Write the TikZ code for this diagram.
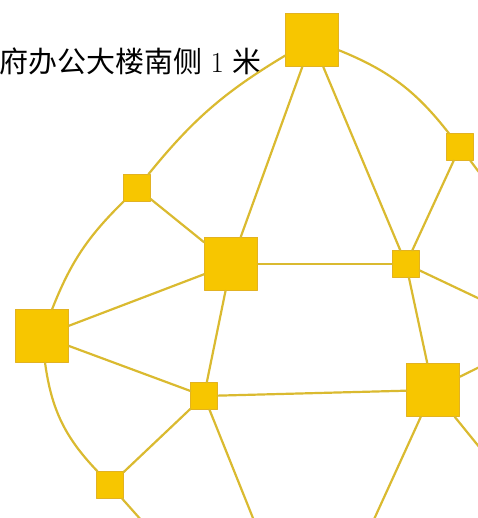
\documentclass[tikz,border=0pt]{standalone}
\usepackage{fontspec}
\newfontfamily\cjk{Noto Sans CJK SC}
\definecolor{boxfill}{RGB}{247,198,0}
\definecolor{boxline}{RGB}{226,178,34}
\definecolor{linkcol}{RGB}{218,186,48}
\begin{document}
\begin{tikzpicture}[x=1pt,y=1pt,line cap=round,line join=round,
  big/.style={draw=boxline,fill=boxfill,line width=0.8pt,inner sep=0pt,minimum size=53pt},
  small/.style={big,minimum size=26.5pt},
  link/.style={draw=linkcol,line width=2.2pt}]
  \useasboundingbox (0,0) rectangle (477,518);
  \node[anchor=base west,inner sep=0pt,font=\fontsize{29}{30}\selectfont] (note) at (-0.5,445) {{\cjk 府办公大楼南侧}\hspace{8pt}1\hspace{8pt}{\cjk 米}};
  \node[big] (top) at (312,478) {};
  \node[small] (ne) at (460,371) {};
  \node[small] (nw) at (137,330) {};
  \node[big] (mid) at (231,254) {};
  \node[small] (east) at (406,254) {};
  \node[big] (west) at (42,182) {};
  \node[small] (south) at (204,122) {};
  \node[big] (se) at (433,128) {};
  \node[small] (sw) at (110,33) {};
  \coordinate (out1) at (500,318);
  \coordinate (out2) at (520,200);
  \coordinate (out3) at (520,171);
  \coordinate (out4) at (510,33);
  \coordinate (out5) at (360,-32);
  \coordinate (out6) at (265,-30);
  \coordinate (out7) at (150,-12);
  \path[link] (top) to[bend right=10] (nw);
  \path[link] (top) to[bend left=15] (ne);
  \path[link] (nw) to[bend right=12] (west);
  \path[link] (west) to[bend right=18] (sw);
  \path[link] (top) -- (mid);
  \path[link] (top) -- (east);
  \path[link] (ne) -- (east);
  \path[link] (nw) -- (mid);
  \path[link] (mid) -- (east);
  \path[link] (mid) -- (west);
  \path[link] (mid) -- (south);
  \path[link] (west) -- (south);
  \path[link] (south) -- (sw);
  \path[link] (south) -- (se);
  \path[link] (east) -- (se);
  \path[link] (ne) -- (out1);
  \path[link] (east) -- (out2);
  \path[link] (se) -- (out3);
  \path[link] (se) -- (out4);
  \path[link] (se) -- (out5);
  \path[link] (south) -- (out6);
  \path[link] (sw) -- (out7);
\end{tikzpicture}
\end{document}
